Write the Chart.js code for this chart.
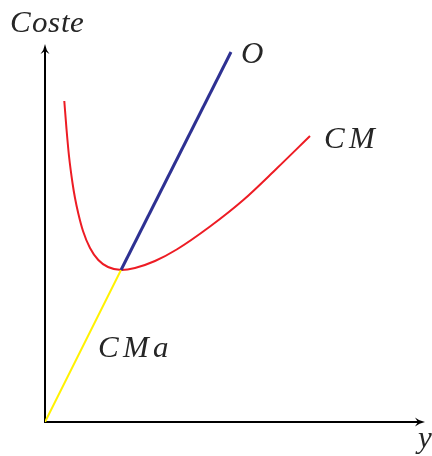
<!DOCTYPE html>
<html>
<head>
<meta charset="utf-8">
<script src="https://cdn.jsdelivr.net/npm/chart.js@4/dist/chart.umd.min.js"></script>
<style>
@font-face{font-family:'SerifIt';font-style:italic;font-weight:400;
  src:local('Liberation Serif Italic'),local('LiberationSerif-Italic'),local('DejaVu Serif Italic'),local('DejaVuSerif-Italic');}
html,body{margin:0;padding:0;background:#fff;}
canvas{display:block;}
</style>
</head>
<body>
<canvas id="c" width="432" height="456"></canvas>
<script>
// Curve CM (coste medio)
const cmX = [19.3, 21.5, 24, 27.5, 30, 33.3, 38, 45, 53.3, 63, 76.5, 90, 110, 131.7, 165, 198.3, 231.7, 265];
const cmY = [321, 293, 266, 239, 224, 208.5, 191, 174, 162, 155, 152, 154, 161, 172.5, 195.5, 222, 253.5, 286];
// CMa segment (yellow) and O segment (blue)
const cmaX = [0, 76];
const cmaY = [0, 152];
const oX = [76, 186];
const oY = [152, 370];
// Text labels
const axisYLabel = 'Coste';
const axisXLabel = 'y';
const curveLabels = ['O', 'CM', 'CMa'];

const toPts = (xs, ys) => xs.map((x, i) => ({x: x, y: ys[i]}));
const FONT = 'italic 31px SerifIt, "Liberation Serif", "Times New Roman", "DejaVu Serif", serif';

const decor = {
  id: 'decor',
  beforeDatasetsDraw(chart) {
    const ctx = chart.ctx;
    const sx = chart.scales.x, sy = chart.scales.y;
    const x0 = sx.getPixelForValue(0), y0 = sy.getPixelForValue(0);
    const xEnd = sx.getPixelForValue(sx.max), yEnd = sy.getPixelForValue(sy.max);
    ctx.save();
    ctx.strokeStyle = '#000';
    ctx.fillStyle = '#000';
    ctx.lineWidth = 2;
    ctx.lineCap = 'butt';
    ctx.beginPath();
    ctx.moveTo(x0, y0 + 1);
    ctx.lineTo(x0, yEnd + 5);
    ctx.moveTo(x0 - 1, y0);
    ctx.lineTo(xEnd - 5, y0);
    ctx.stroke();
    const L = 10, W = 4.5;
    ctx.beginPath();
    ctx.moveTo(x0, yEnd);
    ctx.quadraticCurveTo(x0 - 1, yEnd + 6, x0 - W, yEnd + L);
    ctx.quadraticCurveTo(x0, yEnd + 7, x0, yEnd + 7);
    ctx.quadraticCurveTo(x0, yEnd + 7, x0 + W, yEnd + L);
    ctx.quadraticCurveTo(x0 + 1, yEnd + 6, x0, yEnd);
    ctx.closePath();
    ctx.fill();
    ctx.beginPath();
    ctx.moveTo(xEnd, y0);
    ctx.quadraticCurveTo(xEnd - 6, y0 - 1, xEnd - L, y0 - W);
    ctx.quadraticCurveTo(xEnd - 7, y0, xEnd - 7, y0);
    ctx.quadraticCurveTo(xEnd - 7, y0, xEnd - L, y0 + W);
    ctx.quadraticCurveTo(xEnd - 6, y0 + 1, xEnd, y0);
    ctx.closePath();
    ctx.fill();
    ctx.restore();
  },
  afterDraw(chart) {
    const ctx = chart.ctx;
    const sx = chart.scales.x, sy = chart.scales.y;
    const px = v => sx.getPixelForValue(v);
    const py = v => sy.getPixelForValue(v);
    ctx.save();
    ctx.fillStyle = '#262626';
    ctx.textBaseline = 'alphabetic';
    ctx.textAlign = 'left';
    ctx.font = FONT;
    ctx.letterSpacing = '0.5px';
    ctx.fillText(axisYLabel, px(-35), py(390));
    ctx.letterSpacing = '0px';
    ctx.fillText(axisXLabel, px(373), py(-25));
    ctx.fillText(curveLabels[0], px(196), py(359));
    ctx.letterSpacing = '4px';
    ctx.fillText(curveLabels[1], px(279), py(274));
    ctx.fillText(curveLabels[2], px(53), py(65));
    ctx.restore();
  }
};

function draw() {
  new Chart(document.getElementById('c'), {
    type: 'scatter',
    data: {
      datasets: [
        {label: 'CM', data: toPts(cmX, cmY), showLine: true, borderColor: '#ed1c24', borderWidth: 2,
         pointRadius: 0, cubicInterpolationMode: 'monotone', order: 3, fill: false},
        {label: 'CMa', data: toPts(cmaX, cmaY), showLine: true, borderColor: '#fff200', borderWidth: 2,
         pointRadius: 0, order: 2, fill: false},
        {label: 'O', data: toPts(oX, oY), showLine: true, borderColor: '#2e3192', borderWidth: 3,
         pointRadius: 0, order: 1, fill: false}
      ]
    },
    options: {
      responsive: false,
      devicePixelRatio: 1,
      animation: false,
      events: [],
      layout: {padding: {left: 45, right: 7, top: 44, bottom: 34}},
      plugins: {legend: {display: false}, tooltip: {enabled: false}, title: {display: false}},
      scales: {
        x: {type: 'linear', min: 0, max: 380, display: false},
        y: {type: 'linear', min: 0, max: 378, display: false}
      }
    },
    plugins: [decor]
  });
}

let done = false;
function go() { if (!done) { done = true; draw(); } }
if (document.fonts && document.fonts.load) {
  document.fonts.load(FONT, 'CosteyOMa').then(go, go);
  setTimeout(go, 1500);
} else {
  go();
}
</script>
</body>
</html>
